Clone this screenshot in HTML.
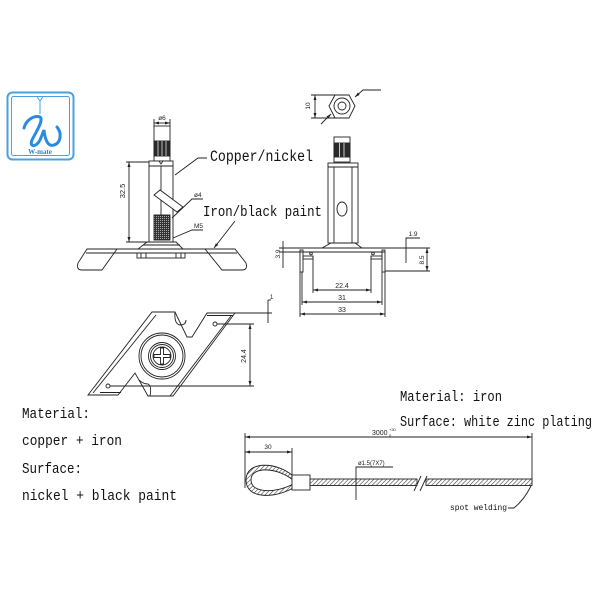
<!DOCTYPE html>
<html><head><meta charset="utf-8">
<style>
html,body{margin:0;padding:0;background:#fff;}
svg{display:block;}
.t{font-family:"Liberation Mono",monospace;fill:#111;}
.d{font-family:"Liberation Sans",sans-serif;fill:#222;}
</style></head><body>
<svg width="600" height="600" viewBox="0 0 600 600" xmlns="http://www.w3.org/2000/svg">
<defs>
<marker id="a" viewBox="0 0 5 3" refX="5" refY="1.5" markerWidth="5" markerHeight="3" orient="auto-start-reverse" markerUnits="userSpaceOnUse"><path d="M0,0L5,1.5L0,3z" fill="#222"/></marker>
<pattern id="h" width="3" height="3" patternUnits="userSpaceOnUse" patternTransform="rotate(45)"><rect width="3" height="3" fill="#fff"/><line x1="0" y1="0" x2="0" y2="3" stroke="#333" stroke-width="1.1"/></pattern>
<pattern id="th" width="2" height="2" patternUnits="userSpaceOnUse"><rect width="2" height="2" fill="#333"/><rect width="1" height="1" fill="#aaa"/></pattern>
</defs>
<rect width="600" height="600" fill="#fff"/>

<!-- LOGO -->
<rect x="7.5" y="92.5" width="66" height="67" rx="5" fill="none" stroke="#4aa0e0" stroke-width="2"/>
<rect x="11.5" y="96.5" width="58" height="59" rx="2" fill="none" stroke="#4aa0e0" stroke-width="1"/>
<path d="M37,96.5 L40,101 L43,96.5 M40,101 L40,114" fill="none" stroke="#4aa0e0" stroke-width="1"/>
<path d="M24,128 C26,120 34,115 40,117 C44,120 36,132 32,140 C29,147 36,148 40,140 L44,130 C45,140 48,147 54,145 C61,143 62,133 57,127" fill="none" stroke="#2b8be0" stroke-width="3" stroke-linecap="round"/>
<text x="40" y="154" text-anchor="middle" font-family="Liberation Serif, serif" font-weight="bold" font-size="7" fill="#2a7fd0">W-mate</text>

<!-- LEFT STUD -->
<g stroke="#222" stroke-width="0.9" fill="none">
  <line x1="154" y1="119" x2="154" y2="127"/>
  <line x1="170" y1="119" x2="170" y2="127"/>
  <line x1="154" y1="123" x2="170" y2="123" marker-start="url(#a)" marker-end="url(#a)"/>
  <rect x="154" y="126" width="16" height="35" fill="#fff"/>
  <rect x="154" y="141" width="16" height="15" fill="#2a2a2a"/>
  <path d="M158,141V156 M162,141V156 M166,141V156" stroke="#ddd" stroke-width="0.8"/>
  <rect x="149" y="161" width="24" height="81" fill="#fff"/>
  <line x1="149" y1="166" x2="173" y2="166"/>
  <path d="M159,161 L161,164 L163,161"/>
  <line x1="161" y1="166" x2="161" y2="215"/>
  <polygon points="154,195 160,190 183,207 177,212" fill="#fff"/>
  <rect x="154" y="215" width="16" height="25" fill="url(#th)"/>
  <polygon points="147,242 176,242 183,249 138,249" fill="#fff"/>
  <line x1="143" y1="245" x2="180" y2="245"/>
  <line x1="87" y1="249" x2="235" y2="249"/>
  <line x1="87" y1="253" x2="235" y2="253"/>
  <path d="M117,249 L87,249 L78,263 Q76,270 82,270 L102,270 Z" fill="#fff"/>
  <line x1="86" y1="253" x2="114" y2="253"/>
  <path d="M205,249 L235,249 L246,263 Q248,270 242,270 L222,270 Z" fill="#fff"/>
  <line x1="208" y1="253" x2="237" y2="253"/>
  <rect x="137" y="253" width="48" height="5"/>
  <path d="M141,253V258 M146,253V258 M176,253V258 M181,253V258"/>
  <!-- 32.5 -->
  <line x1="126" y1="162" x2="149" y2="162"/>
  <line x1="126" y1="242" x2="147" y2="242"/>
  <line x1="129" y1="162" x2="129" y2="242" marker-start="url(#a)" marker-end="url(#a)"/>
  <!-- leaders -->
  <path d="M175,175 L198,158 L207,158"/>
  <path d="M172,218 L192,199 L203,199"/>
  <path d="M173,238 L192,230 L203,230"/>
  <line x1="235" y1="221" x2="214" y2="248" marker-end="url(#a)"/>
</g>
<text class="d" font-size="6.5" x="162" y="120" text-anchor="middle">ø6</text>
<text class="d" font-size="6.5" x="194" y="197">ø4</text>
<text class="d" font-size="6.5" x="194" y="228">M5</text>
<text class="d" font-size="7.5" transform="translate(125,191) rotate(-90)" text-anchor="middle">32.5</text>
<text class="t" font-size="15.5" x="210" y="161" textLength="103" lengthAdjust="spacingAndGlyphs">Copper/nickel</text>
<text class="t" font-size="15" x="203" y="216" textLength="119" lengthAdjust="spacingAndGlyphs">Iron/black paint</text>

<!-- RIGHT VIEW: TOP HEX -->
<g stroke="#222" stroke-width="0.9" fill="none">
  <polygon points="329,106 335,95 349,95 355,106 349,118 335,118" fill="#fff"/>
  <circle cx="342" cy="106" r="8"/>
  <circle cx="342" cy="106" r="4"/>
  <line x1="311" y1="95" x2="336" y2="95"/>
  <line x1="311" y1="118" x2="336" y2="118"/>
  <line x1="315" y1="95" x2="315" y2="118" marker-start="url(#a)" marker-end="url(#a)"/>
  <path d="M381,90 L363,90 L355,97" marker-end="url(#a)"/>
  <line x1="321" y1="124" x2="331" y2="114" marker-end="url(#a)"/>
  <!-- nut -->
  <rect x="334" y="137" width="16" height="25" fill="#fff"/>
  <rect x="334" y="143" width="16" height="14" fill="#2a2a2a"/>
  <path d="M339.5,143V157 M344,143V157" stroke="#ddd" stroke-width="0.9"/>
  <!-- body -->
  <rect x="328" y="163" width="30" height="80" fill="#fff"/>
  <line x1="328" y1="167" x2="358" y2="167"/>
  <line x1="334" y1="167" x2="334" y2="243"/>
  <line x1="352" y1="167" x2="352" y2="243"/>
  <ellipse cx="342" cy="209" rx="5" ry="7"/>
  <polygon points="331,243 355,243 362,248 322,248" fill="#fff"/>
  <!-- plate -->
  <line x1="279" y1="248" x2="430" y2="248"/>
  <line x1="279" y1="252" x2="385" y2="252"/>
  <rect x="300" y="250" width="3" height="22"/>
  <rect x="382" y="250" width="3" height="22"/>
  <line x1="385" y1="271" x2="430" y2="271"/>
  <rect x="303" y="256" width="10" height="3"/>
  <rect x="371" y="256" width="11" height="3"/>
  <circle cx="311" cy="253.5" r="1.3"/>
  <circle cx="373" cy="253.5" r="1.3"/>
  <line x1="313" y1="256" x2="313" y2="293"/>
  <line x1="371" y1="256" x2="371" y2="293"/>
  <line x1="302" y1="272" x2="302" y2="305"/>
  <line x1="382" y1="272" x2="382" y2="305"/>
  <line x1="300" y1="272" x2="300" y2="317"/>
  <line x1="385" y1="272" x2="385" y2="317"/>
  <line x1="313" y1="290" x2="371" y2="290" marker-start="url(#a)" marker-end="url(#a)"/>
  <line x1="302" y1="302" x2="382" y2="302" marker-start="url(#a)" marker-end="url(#a)"/>
  <line x1="300" y1="314" x2="385" y2="314" marker-start="url(#a)" marker-end="url(#a)"/>
  <line x1="283" y1="241" x2="283" y2="268"/>
  <line x1="427" y1="248" x2="427" y2="271" marker-start="url(#a)" marker-end="url(#a)"/>
  <path d="M420,238 L406,238 L406,263"/>
</g>
<text class="d" font-size="6.5" transform="translate(310,106) rotate(-90)" text-anchor="middle">10</text>
<text class="d" font-size="6.5" transform="translate(280,254) rotate(-90)" text-anchor="middle">3.9</text>
<text class="d" font-size="6.5" transform="translate(424,260) rotate(-90)" text-anchor="middle">8.5</text>
<text class="d" font-size="6.5" x="413" y="236" text-anchor="middle">1.9</text>
<text class="d" font-size="7" x="342" y="288" text-anchor="middle">22.4</text>
<text class="d" font-size="7" x="342" y="300" text-anchor="middle">31</text>
<text class="d" font-size="7" x="342" y="312" text-anchor="middle">33</text>

<!-- BOTTOM PLATE -->
<g stroke="#222" stroke-width="0.9" fill="none">
  <path d="M152,312 L175,312 L187,337 L192,337 L207,313 L235,313 L173,396 L148,396 L135,373 L118,395 L88,395 Z" fill="#fff"/>
  <line x1="207" y1="315.5" x2="233" y2="315.5"/>
  <line x1="156" y1="315" x2="93" y2="393"/>
  <line x1="231" y1="316" x2="170" y2="396"/>
  <line x1="100" y1="392.5" x2="121" y2="392.5"/>
  <path d="M175,312 Q174,324 180,325 Q186,325 186,320"/>
  <path d="M139,380 Q143,384 148,384 Q152,386 150,396"/>
  <circle cx="162" cy="356" r="23"/>
  <circle cx="162" cy="356" r="21"/>
  <circle cx="162" cy="356" r="13.5"/>
  <circle cx="162" cy="356" r="11.5"/>
  <circle cx="162" cy="356" r="9"/>
  <path d="M160.5,348 h3 v6.5 h6.5 v3 h-6.5 v6.5 h-3 v-6.5 h-6.5 v-3 h6.5 z"/>
  <circle cx="215" cy="324" r="2"/>
  <circle cx="108" cy="386" r="2"/>
  <line x1="217" y1="324" x2="254" y2="324"/>
  <line x1="110" y1="386" x2="254" y2="386"/>
  <line x1="250" y1="324" x2="250" y2="386" marker-start="url(#a)" marker-end="url(#a)"/>
  <line x1="235" y1="313" x2="272" y2="313"/>
  <line x1="268" y1="300" x2="268" y2="323"/>
  <line x1="268" y1="300" x2="271" y2="300"/>
</g>
<text class="d" font-size="7" transform="translate(246,356) rotate(-90)" text-anchor="middle">24.4</text>
<text class="d" font-size="6" x="270" y="299">1</text>

<!-- LEFT TEXT -->
<text class="t" font-size="14.5" x="22" y="418" textLength="68" lengthAdjust="spacingAndGlyphs">Material:</text>
<text class="t" font-size="14.5" x="22" y="445" textLength="100" lengthAdjust="spacingAndGlyphs">copper + iron</text>
<text class="t" font-size="14.5" x="22" y="473" textLength="60" lengthAdjust="spacingAndGlyphs">Surface:</text>
<text class="t" font-size="14.5" x="22" y="500" textLength="155" lengthAdjust="spacingAndGlyphs">nickel + black paint</text>

<!-- RIGHT TEXT -->
<text class="t" font-size="14.5" x="400" y="401" textLength="102" lengthAdjust="spacingAndGlyphs">Material: iron</text>
<text class="t" font-size="14.5" x="400" y="426" textLength="192" lengthAdjust="spacingAndGlyphs">Surface: white zinc plating</text>

<!-- WIRE -->
<g stroke="#222" stroke-width="0.9" fill="none">
  <line x1="245" y1="433" x2="245" y2="488"/>
  <line x1="532" y1="433" x2="532" y2="483"/>
  <line x1="245" y1="437" x2="532" y2="437" marker-start="url(#a)" marker-end="url(#a)"/>
  <line x1="292" y1="448" x2="292" y2="476"/>
  <line x1="245" y1="452" x2="292" y2="452" marker-start="url(#a)" marker-end="url(#a)"/>
  <path d="M293,476 C278,462 246,460 246,480 C246,500 276,498 293,488 L293,484 C277,493 251,494 251,480 C251,466 277,467 293,480 Z" fill="url(#h)"/>
  <rect x="292" y="475" width="18" height="15" fill="#fff"/>
  <rect x="310" y="479" width="107" height="6.5" fill="url(#h)"/>
  <rect x="426" y="479" width="106" height="6.5" fill="url(#h)"/>
  <rect x="417.5" y="477" width="8" height="11" fill="#fff" stroke="none"/>
  <line x1="414" y1="491" x2="421" y2="476"/>
  <line x1="420" y1="491" x2="427" y2="476"/>
  <path d="M356,500 L356,467 L393,467"/>
  <path d="M508,508 L514,508 Q524,500 531,486"/>
</g>
<text class="d" font-size="7" x="372" y="435">3000</text>
<text class="d" font-size="4" x="389" y="431">+30</text>
<text class="d" font-size="4" x="389" y="437">0</text>
<text class="d" font-size="6.5" x="268" y="449" text-anchor="middle">30</text>
<text class="d" font-size="6" x="358" y="465">ø1.5(7X7)</text>
<text class="t" font-size="8" x="450" y="510" textLength="57" lengthAdjust="spacingAndGlyphs">spot welding</text>
</svg>
</body></html>
